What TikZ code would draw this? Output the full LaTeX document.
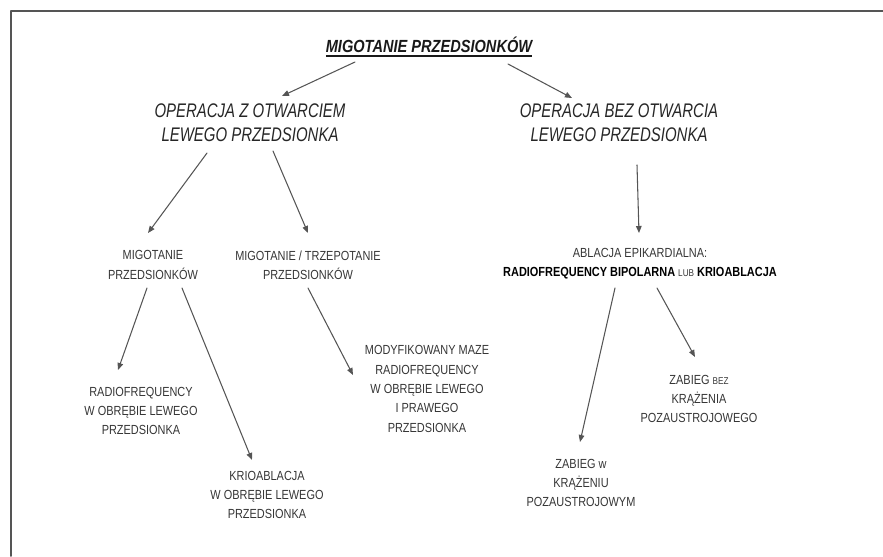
\documentclass[tikz,border=0pt]{standalone}
\usepackage{fontspec}
\setmainfont{Liberation Sans}[FakeStretch=0.83]
\newfontfamily\opfont{Liberation Sans}[FakeStretch=0.76]
\usetikzlibrary{arrows.meta}
\definecolor{ink}{HTML}{363636}
\definecolor{arrgray}{HTML}{555555}
\newcommand\smcap[1]{{\fontsize{5.6pt}{11pt}\selectfont #1}}
\newcommand\thickul[1]{\setbox0=\hbox{#1}\rlap{\copy0}\rule[-2.4pt]{\wd0}{0.9pt}}
\tikzset{
	title/.style={font=\fontsize{10pt}{12pt}\selectfont\bfseries\itshape, text=black!90, inner sep=0pt},
	oper/.style={font=\opfont\fontsize{11.2pt}{13.6pt}\selectfont\itshape, align=center, text=black!85, inner sep=0pt},
	leaf/.style={font=\fontsize{7.5pt}{11pt}\selectfont, align=center, text=ink, inner sep=0pt},
}
\begin{document}
\begin{tikzpicture}[x=0.02cm, y=-0.02cm, >={Triangle[length=4pt,width=3.2pt]}, line join=round, line cap=round]
		\useasboundingbox (0,0) rectangle (883,556);
		\draw[arrgray, line width=1.1pt] (883,11)--(11,11)--(11,556);
		\path%wezly
		(429,47) node[title] (top) {\thickul{MIGOTANIE PRZEDSIONKÓW}}
		(250,123) node[oper] (opl) {OPERACJA Z OTWARCIEM\\LEWEGO PRZEDSIONKA}
		(619,123) node[oper] (opr) {OPERACJA BEZ OTWARCIA\\LEWEGO PRZEDSIONKA}
		(153,265) node[leaf] (mig1) {MIGOTANIE\\PRZEDSIONKÓW}
		(308,265) node[leaf] (mig2) {MIGOTANIE / TRZEPOTANIE\\PRZEDSIONKÓW}
		(640,264) node[leaf] (abl) {ABLACJA EPIKARDIALNA:\\\textcolor{black}{\bfseries RADIOFREQUENCY BIPOLARNA} \smcap{LUB} \textcolor{black}{\bfseries KRIOABLACJA}}
		(141,411) node[leaf] (rf) {RADIOFREQUENCY\\W OBRĘBIE LEWEGO\\PRZEDSIONKA}
		(267,495) node[leaf] (krio) {KRIOABLACJA\\W OBRĘBIE LEWEGO\\PRZEDSIONKA}
		(427,389) node[leaf] (maze) {MODYFIKOWANY MAZE\\RADIOFREQUENCY\\W OBRĘBIE LEWEGO\\I PRAWEGO\\PRZEDSIONKA}
		(699,399) node[leaf] (zb) {ZABIEG \smcap{BEZ}\\KRĄŻENIA\\POZAUSTROJOWEGO}
		(581,483) node[leaf] (zw) {ZABIEG w\\KRĄŻENIU\\POZAUSTROJOWYM}
		;
		\foreach \a/\sa/\b/\sb in {top/{-74,15}/opl/{32,-27}, top/{79,17}/opr/{-47,-25}, opr/{18,42}/abl/{-1,-31},
			opl/{-43,30}/mig1/{-5,-32}, opl/{23,28}/mig2/{0,-32}, mig1/{-6,23}/rf/{-23,-41}, mig1/{29,23}/krio/{-15,-35},
			mig2/{0,23}/maze/{-74,-14}, abl/{-25,24}/zw/{-1,-41}, abl/{17,24}/zb/{-4,-42}}
		\draw[->, arrgray, line width=0.6pt] ([shift={(\sa)}]\a.center)--([shift={(\sb)}]\b.center);
\end{tikzpicture}
\end{document}
